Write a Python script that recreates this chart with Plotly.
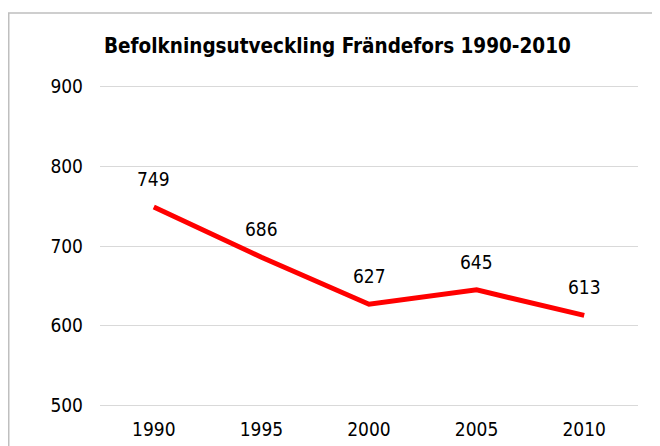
import plotly.graph_objects as go

years = ["1990", "1995", "2000", "2005", "2010"]
population = [749, 686, 627, 645, 613]
y_ticks = [500, 600, 700, 800, 900]
title_text = "Befolkningsutveckling Frändefors 1990-2010"

FONT = "DejaVu Sans Condensed, DejaVu Sans, Liberation Sans, sans-serif"

xpos = list(range(len(years)))

# page body has an 8px offset; positions below are in figure pixels
W, H = 660, 446
L, R, T, B = 92, 30, 75.6, 46.4
pw, ph = W - L - R, H - T - B

fig = go.Figure()
fig.add_trace(go.Scatter(
    x=xpos, y=population, mode="lines",
    line=dict(color="#ff0000", width=5),
    hoverinfo="skip", showlegend=False,
))

annotations = [
    dict(x=x, y=v, xref="x", yref="y", text=str(v), showarrow=False,
         yshift=28, font=dict(family=FONT, size=19, color="#000000"))
    for x, v in zip(xpos, population)
]
annotations.append(dict(
    x=(329 - L) / pw, y=(H - B - 38) / ph, xref="paper", yref="paper",
    text="<b>" + title_text + "</b>", showarrow=False,
    xanchor="center", yanchor="middle",
    font=dict(family=FONT, size=20.5, color="#000000"),
))

fig.update_layout(
    width=W, height=H,
    margin=dict(l=L, r=R, t=T, b=B, autoexpand=False),
    paper_bgcolor="white", plot_bgcolor="white",
    font=dict(family=FONT, size=19, color="#000000"),
    annotations=annotations,
    shapes=[dict(type="rect", xref="paper", yref="paper",
                 x0=(0.75 - L) / pw, x1=(700 - L) / pw,
                 y0=(H - B - 480) / ph, y1=(H - B - 4.5) / ph,
                 line=dict(color="#bfbfbf", width=1.5), layer="below")],
    xaxis=dict(range=[-0.5, len(years) - 0.5], tickvals=xpos, ticktext=years,
               showgrid=False, showline=False, zeroline=False,
               ticks="", ticklabelstandoff=8, automargin=False,
               tickfont=dict(family=FONT, size=19, color="#000000")),
    yaxis=dict(range=[497, 903], tickvals=y_ticks, showgrid=True,
               gridcolor="#d9d9d9", gridwidth=1, showline=False, zeroline=False,
               ticks="", ticklabelstandoff=16, automargin=False,
               tickfont=dict(family=FONT, size=19, color="#000000")),
)

fig.write_html("out.html")
